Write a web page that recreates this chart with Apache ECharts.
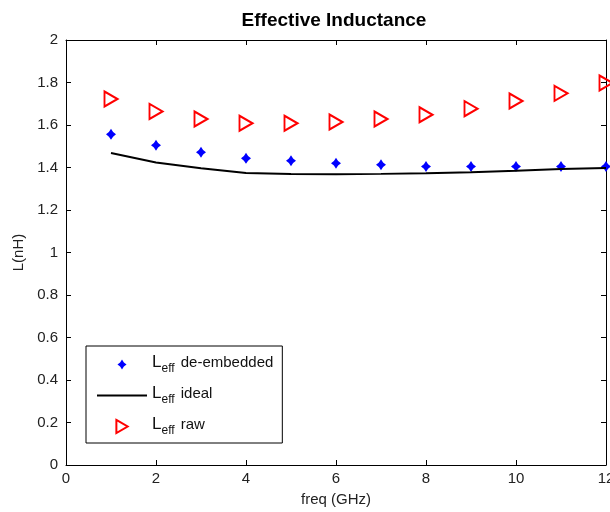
<!DOCTYPE html>
<html><head><meta charset="utf-8">
<script src="https://cdn.jsdelivr.net/npm/echarts@6/dist/echarts.min.js"></script>
<style>html,body{margin:0;padding:0;background:#fff}#c{width:610px;height:512px}</style>
</head><body><div id="c"></div>
<script>
const freq = [1,2,3,4,5,6,7,8,9,10,11,12];
const deEmbedded = [1.556,1.505,1.472,1.443,1.432,1.420,1.413,1.405,1.405,1.405,1.405,1.405];
const ideal = [1.468,1.424,1.396,1.374,1.369,1.368,1.370,1.373,1.378,1.385,1.393,1.398];
const raw = [1.722,1.664,1.628,1.608,1.608,1.614,1.628,1.648,1.677,1.713,1.749,1.798];
const seriesNames = ['de-embedded','ideal','raw'];
const xTicks = [0,2,4,6,8,10,12];
const yTicks = [0,0.2,0.4,0.6,0.8,1,1.2,1.4,1.6,1.8,2];

const FONT = '"Liberation Sans", Arial, sans-serif';
const pair = a => freq.map((f,i)=>[f,a[i]]);
const starShape = 'M0,-10 L4.2,-4.2 L10,0 L4.2,4.2 L0,10 L-4.2,4.2 L-10,0 L-4.2,-4.2 Z';
const starPath = 'path://' + starShape;
const starLegend = 'path://M-15,-16.5 L-15,-16.5 M15,16.5 L15,16.5 M0,-11 L4.2,-4.2 L10,0 L4.2,4.2 L0,11 L-4.2,4.2 L-10,0 L-4.2,-4.2 Z';
const triPath = 'path://M0,0 L12,7 L0,14 Z';
const triLegend = 'path://M-1,-1 L-1,-1 M13,15 L13,15 M0,0 L12,7 L0,14 Z';
const axisCommon = {
  axisLine:{show:true,onZero:false,lineStyle:{color:'#000',width:1}},
  axisTick:{show:true,inside:true,length:5,lineStyle:{color:'#000'}},
  splitLine:{show:false}
};
const chart = echarts.init(document.getElementById('c'));
chart.setOption({
  animation:false,
  backgroundColor:'#fff',
  title:{text:'Effective Inductance',left:329,top:6,textAlign:'center',
    textStyle:{fontFamily:FONT,fontSize:19,fontWeight:'bold',color:'#000'}},
  grid:{left:66,top:40,right:4,bottom:47,containLabel:false,outerBoundsMode:'none'},
  xAxis:[
    Object.assign({type:'value',min:0,max:12,interval:2,position:'bottom',
      name:'freq (GHz)',nameLocation:'middle',nameGap:27,
      nameTextStyle:{fontFamily:FONT,fontSize:15,color:'#222'},
      axisLabel:{fontFamily:FONT,fontSize:15,color:'#222',margin:6,
        formatter:v=>xTicks.includes(v)?String(v):''}},axisCommon),
    Object.assign({type:'value',min:0,max:12,interval:2,position:'top',axisLabel:{show:false}},axisCommon)
  ],
  yAxis:[
    Object.assign({type:'value',min:0,max:2,interval:0.2,position:'left',
      name:'L(nH)',nameLocation:'middle',nameGap:40,
      nameTextStyle:{fontFamily:FONT,fontSize:15,color:'#222'},
      axisLabel:{fontFamily:FONT,fontSize:15,color:'#222',margin:8,
        formatter:v=>{const t=yTicks.find(k=>Math.abs(k-v)<1e-9);return t===undefined?'':String(t);}}},axisCommon),
    Object.assign({type:'value',min:0,max:2,interval:0.2,position:'right',axisLabel:{show:false}},axisCommon)
  ],
  legend:{
    orient:'vertical',left:86,top:346,
    data:[{name:seriesNames[0],icon:starLegend},
          {name:seriesNames[1],itemStyle:{color:'rgba(0,0,0,0)',borderWidth:0,opacity:0}},
          {name:seriesNames[2],icon:triLegend}],
    backgroundColor:'#fff',borderColor:'#000',borderWidth:1,borderRadius:0,
    padding:[8,9,6,10],itemGap:10,itemWidth:50,itemHeight:15,
    textStyle:{fontFamily:FONT,fontSize:15,color:'#111',
      rich:{L:{fontFamily:FONT,fontSize:17,color:'#111',verticalAlign:'bottom',padding:[0,0,4,0]},
            s:{fontFamily:FONT,fontSize:12,color:'#111',verticalAlign:'bottom',padding:[5,2,0,0]},
            t:{fontFamily:FONT,fontSize:15,color:'#111',verticalAlign:'bottom',padding:[0,0,5,0]}}},
    formatter:n=>'{L|L}{s|eff}{t| '+n+'}'
  },
  series:[
    {name:'de-embedded',type:'scatter',data:pair(deEmbedded),symbol:starPath,symbolSize:[10,11],
      itemStyle:{color:'#0000ff',opacity:1}},
    {name:'ideal',type:'line',data:pair(ideal),showSymbol:false,symbol:'none',
      lineStyle:{color:'#000',width:2},itemStyle:{color:'#000'}},
    {name:'raw',type:'scatter',data:pair(raw),symbol:triPath,symbolSize:[13,15],
      itemStyle:{color:'rgba(255,255,255,0)',borderColor:'#ff0000',borderWidth:2,opacity:1},clip:false}
  ]
});
</script></body></html>
